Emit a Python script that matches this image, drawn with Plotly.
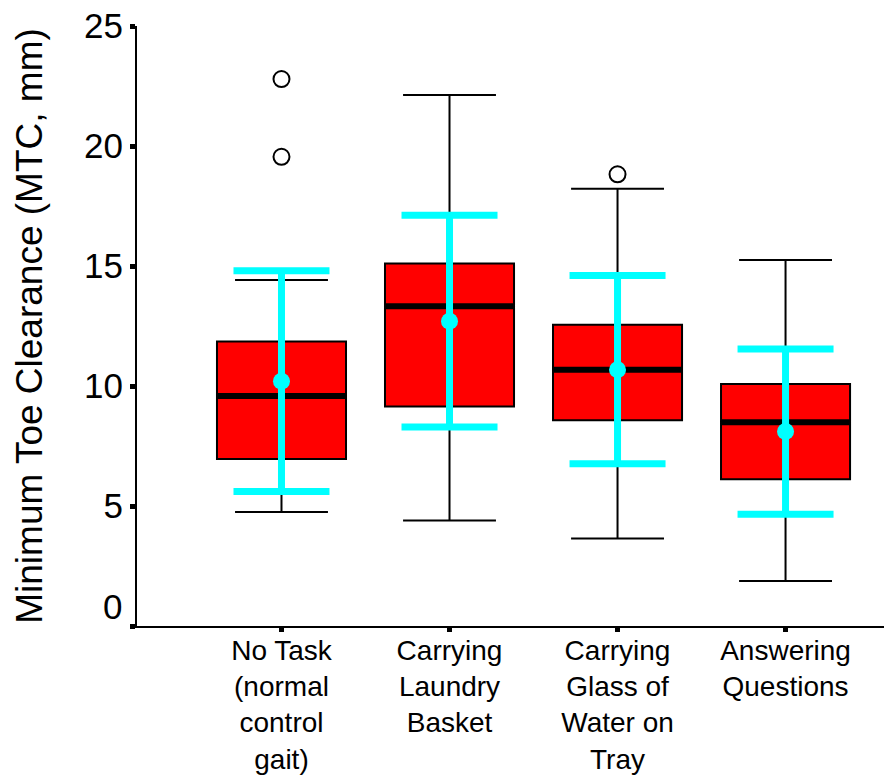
import plotly.graph_objects as go

# Walking conditions (x-axis categories)
categories = [
    "No Task<br>(normal<br>control<br>gait)",
    "Carrying<br>Laundry<br>Basket",
    "Carrying<br>Glass of<br>Water on<br>Tray",
    "Answering<br>Questions",
]

# Box-plot summary statistics of minimum toe clearance (mm)
q1 = [6.96, 9.15, 8.57, 6.11]
median = [9.58, 13.32, 10.68, 8.49]
q3 = [11.85, 15.10, 12.55, 10.08]
whisker_low = [4.75, 4.40, 3.65, 1.88]
whisker_high = [14.42, 22.12, 18.22, 15.25]

# Mean ± standard deviation
mean = [10.20, 12.70, 10.68, 8.10]
sd = [4.60, 4.41, 3.92, 3.44]

# Outliers: category index and value
outlier_idx = [0, 0, 2]
outlier_val = [22.79, 19.55, 18.82]

y_ticks = [0, 5, 10, 15, 20, 25]

FONT = "Liberation Sans, Arial, sans-serif"
BOX_W = 0.768
positions = list(range(len(categories)))

fig = go.Figure()

for i, pos in enumerate(positions):
    fig.add_trace(go.Box(
        x=[pos],
        q1=[q1[i]], median=[median[i]], q3=[q3[i]],
        lowerfence=[whisker_low[i]], upperfence=[whisker_high[i]],
        width=BOX_W,
        whiskerwidth=0.72,
        fillcolor="#FF0000",
        line=dict(color="black", width=2),
        boxpoints=False,
        hoverinfo="skip",
        showlegend=False,
    ))

# Thick median bars
for i, pos in enumerate(positions):
    fig.add_trace(go.Scatter(
        x=[pos - BOX_W / 2, pos + BOX_W / 2],
        y=[median[i], median[i]],
        mode="lines",
        line=dict(color="black", width=6),
        hoverinfo="skip",
        showlegend=False,
    ))

# Outliers as open circles
fig.add_trace(go.Scatter(
    x=[positions[k] for k in outlier_idx],
    y=outlier_val,
    mode="markers",
    marker=dict(symbol="circle-open", size=16, color="black", line=dict(width=2)),
    hoverinfo="skip",
    showlegend=False,
))

# Mean with SD error bars
fig.add_trace(go.Scatter(
    x=positions,
    y=mean,
    mode="markers",
    marker=dict(symbol="circle", size=17, color="#00FFFF"),
    error_y=dict(type="data", array=sd, visible=True,
                 color="#00FFFF", thickness=7, width=48),
    hoverinfo="skip",
    showlegend=False,
))

# Zero label sits slightly above its tick
fig.add_annotation(
    xref="paper", yref="y", x=0, y=0.8,
    xanchor="right", yanchor="middle", xshift=-13,
    text="0", showarrow=False,
    font=dict(family=FONT, size=35, color="black"),
)

fig.update_layout(
    width=884, height=775,
    margin=dict(l=137, r=0, t=26, b=149),
    plot_bgcolor="white", paper_bgcolor="white",
    font=dict(family=FONT, color="black"),
)

fig.update_xaxes(
    range=[-0.86, 3.586],
    tickmode="array", tickvals=positions, ticktext=categories,
    tickfont=dict(family=FONT, size=28, color="black"),
    showline=True, linecolor="black", linewidth=2,
    ticks="outside", ticklen=4, tickwidth=5, tickcolor="black",
    showgrid=False, zeroline=False,
    tickangle=0, automargin=False, ticklabelstandoff=-6,
)

fig.update_yaxes(
    range=[0, 25],
    tickmode="array", tickvals=y_ticks,
    ticktext=["" if v == 0 else str(v) for v in y_ticks],
    tickfont=dict(family=FONT, size=35, color="black"),
    showline=True, linecolor="black", linewidth=2,
    ticks="outside", ticklen=5, tickwidth=5, tickcolor="black",
    showgrid=False, zeroline=False, automargin=False,
    title=dict(text="Minimum Toe Clearance (MTC, mm)",
               font=dict(family=FONT, size=37, color="black"),
               standoff=30),
)

fig.write_html("out.html")
